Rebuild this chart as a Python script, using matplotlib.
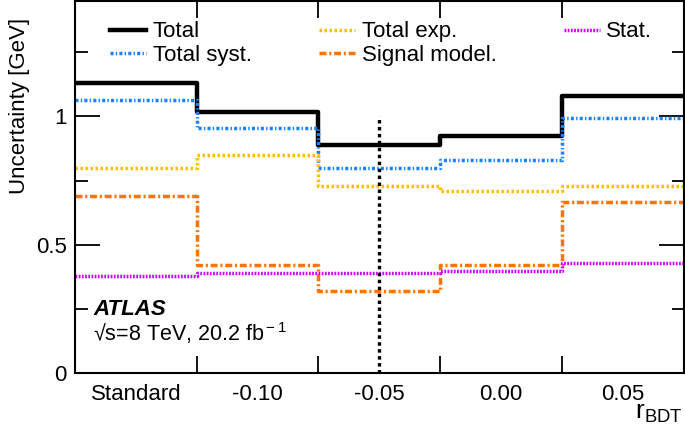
import numpy as np
import matplotlib
matplotlib.use("Agg")
import matplotlib.pyplot as plt
from matplotlib.ticker import MultipleLocator

plt.rcParams['font.family'] = ['Liberation Sans', 'DejaVu Sans']
plt.rcParams['mathtext.fontset'] = 'custom'
plt.rcParams['mathtext.rm'] = 'Liberation Sans'
plt.rcParams['mathtext.it'] = 'Liberation Sans:italic'
plt.rcParams['mathtext.bf'] = 'Liberation Sans:bold'
plt.rcParams['lines.scale_dashes'] = False

# categories (r_BDT working points) and uncertainties in GeV
categories = ["Standard", "-0.10", "-0.05", "0.00", "0.05"]
total = [1.129, 1.016, 0.890, 0.922, 1.080]
total_syst = [1.063, 0.953, 0.800, 0.830, 0.992]
total_exp = [0.800, 0.848, 0.730, 0.711, 0.730]
signal_model = [0.688, 0.422, 0.320, 0.422, 0.668]
stat = [0.379, 0.390, 0.390, 0.398, 0.430]
chosen = "-0.05"

edges = np.arange(len(categories) + 1)
centers = edges[:-1] + 0.5

fig = plt.figure(figsize=(6.85, 4.3), dpi=100)
ax = fig.add_axes([0.1095, 0.1326, 0.8885, 0.8654])


def draw(vals, **kw):
    y = np.append(vals, vals[-1])
    ax.step(edges, y, where='post', **kw)


draw(total, color='black', lw=3.2, label='Total')
draw(total_syst, color='#1a80ff', lw=2.5, linestyle=(0, (2.2, 1.6, 1.0, 1.6)),
     label='Total syst.')
draw(total_exp, color='#ffbf00', lw=2.5, linestyle=(0, (1.8, 1.8)),
     label='Total exp.')
draw(signal_model, color='#ff7300', lw=2.5, linestyle=(0, (5.0, 2.0, 1.5, 2.0)),
     label='Signal model.')
draw(stat, color='#d000ff', lw=2.5, linestyle=(0, (1.3, 1.0)), label='Stat.')

xc = centers[categories.index(chosen)]
ax.vlines(xc, 0, 1.0, colors='black', lw=2.4, linestyles=[(0, (2.5, 2.5))])

ax.set_xlim(0, 5)
ax.set_ylim(0, 1.45)

ax.set_xticks(centers)
ax.set_xticklabels(categories, fontsize=16)
ax.set_xticks(edges[1:-1], minor=True)
ax.tick_params(axis='x', which='major', length=0, pad=8)
ax.tick_params(axis='x', which='minor', direction='in', length=12, width=1.3,
               top=True, bottom=True)

ax.yaxis.set_major_locator(MultipleLocator(0.5))
ax.yaxis.set_minor_locator(MultipleLocator(0.25))
ax.set_yticks([0, 0.5, 1])
ax.set_yticklabels(['0', '0.5', '1'], fontsize=16)
ax.tick_params(axis='y', which='major', direction='in', length=18, width=1.3,
               left=True, right=True, pad=6)
ax.tick_params(axis='y', which='minor', direction='in', length=9, width=1.3,
               left=True, right=True)
for s in ax.spines.values():
    s.set_linewidth(1.5)

ax.set_ylabel('Uncertainty [GeV]', fontsize=16, loc='top')
ax.yaxis.set_label_coords(-0.074, 0.954)
fig.text(0.997, 0.026, r'r$_{\rm BDT}$', fontsize=19, ha='right', va='baseline')

ax.text(0.030, 0.156, 'ATLAS', transform=ax.transAxes, fontsize=16,
        fontweight='bold', fontstyle='italic', va='baseline')
ax.text(0.030, 0.086, '\u221as=8 TeV, 20.2 fb$^{\\rm -1}$',
        transform=ax.transAxes, fontsize=15.5, va='baseline')

ax.legend(ncol=3, loc='upper left', bbox_to_anchor=(0.058, 0.945),
          frameon=False, fontsize=16, handlelength=1.6, handletextpad=0.3,
          labelspacing=0.1, columnspacing=3.05, borderpad=0, borderaxespad=0)

fig.savefig('out.png', dpi=100)
